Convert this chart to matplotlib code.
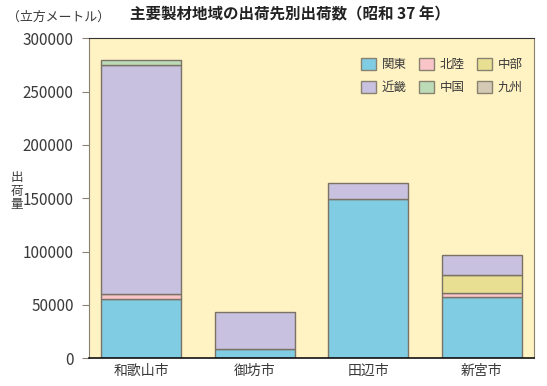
import matplotlib
matplotlib.use("Agg")
import matplotlib.pyplot as plt
import numpy as np
from matplotlib.patches import Patch

plt.rcParams['font.family'] = ['Noto Sans CJK JP', 'DejaVu Sans']

cities = ['和歌山市', '御坊市', '田辺市', '新宮市']
series_names = ['関東', '北陸', '中部', '近畿', '中国', '九州']
kanto  = [55300, 8400, 149100, 57200]
hokuriku = [4700, 0, 0, 4300]
chubu  = [0, 0, 0, 16600]
kinki  = [214700, 35000, 15500, 19000]
chugoku = [5300, 0, 0, 0]
kyushu = [0, 0, 0, 0]
series = [kanto, hokuriku, chubu, kinki, chugoku, kyushu]
colors = ['#7fcce3', '#f9c5c9', '#e9df93', '#c8c1df', '#bcdcb8', '#d4c9b4']
yticks = [0, 50000, 100000, 150000, 200000, 250000, 300000]

fig = plt.figure(figsize=(5.47, 3.86), dpi=100)
ax = fig.add_axes([0.1627, 0.0718, 0.8135, 0.829])
ax.set_facecolor('#fff3c4')

x = np.arange(len(cities))
bottom = np.zeros(len(cities))
for vals, c in zip(series, colors):
    v = np.array(vals, dtype=float)
    mask = v > 0
    ax.bar(x[mask], v[mask], 0.705, bottom=bottom[mask], color=c,
           edgecolor='#7a7264', linewidth=1.0, zorder=2)
    bottom += v

ax.set_xlim(-0.46, 3.46)
ax.set_ylim(0, 300000)
ax.set_yticks(yticks)
ax.set_yticklabels([str(t) for t in yticks])
ax.set_xticks(x)
ax.set_xticklabels(cities)
ax.tick_params(axis='y', direction='out', length=5, color='#888070', labelsize=11,
               labelcolor='#3a3a3a', pad=6)
ax.tick_params(axis='x', length=0, labelsize=10, labelcolor='#3a3a3a', pad=4)
for s in ['left', 'right']:
    ax.spines[s].set_color('#888070')
ax.spines['top'].set_color('#333333')
ax.spines['bottom'].set_color('#111111')
ax.spines['bottom'].set_linewidth(1.2)

handles = [Patch(facecolor=c, edgecolor='#8a8270', label=n) for c, n in zip(colors, series_names)]
order = [0, 3, 1, 4, 2, 5]
leg = ax.legend([handles[i] for i in order], [series_names[i] for i in order],
                ncol=3, loc='upper right', bbox_to_anchor=(1.0, 0.975), frameon=False,
                fontsize=9, handlelength=1.2, handleheight=1.2, handletextpad=0.45,
                columnspacing=1.0, labelspacing=0.75, labelcolor='#3a3a3a')

fig.text(0.53, 0.962, '主要製材地域の出荷先別出荷数（昭和 37 年）', ha='center', va='center',
         fontsize=11.2, fontweight='bold', color='#222222')
fig.text(0.012, 0.955, '（立方メートル）', ha='left', va='center', fontsize=9.3,
         color='#3a3a3a')
fig.text(0.031, 0.505, '出\n荷\n量', ha='center', va='center', fontsize=9,
         color='#3a3a3a', linespacing=1.05)

fig.savefig('out.png', dpi=100)
